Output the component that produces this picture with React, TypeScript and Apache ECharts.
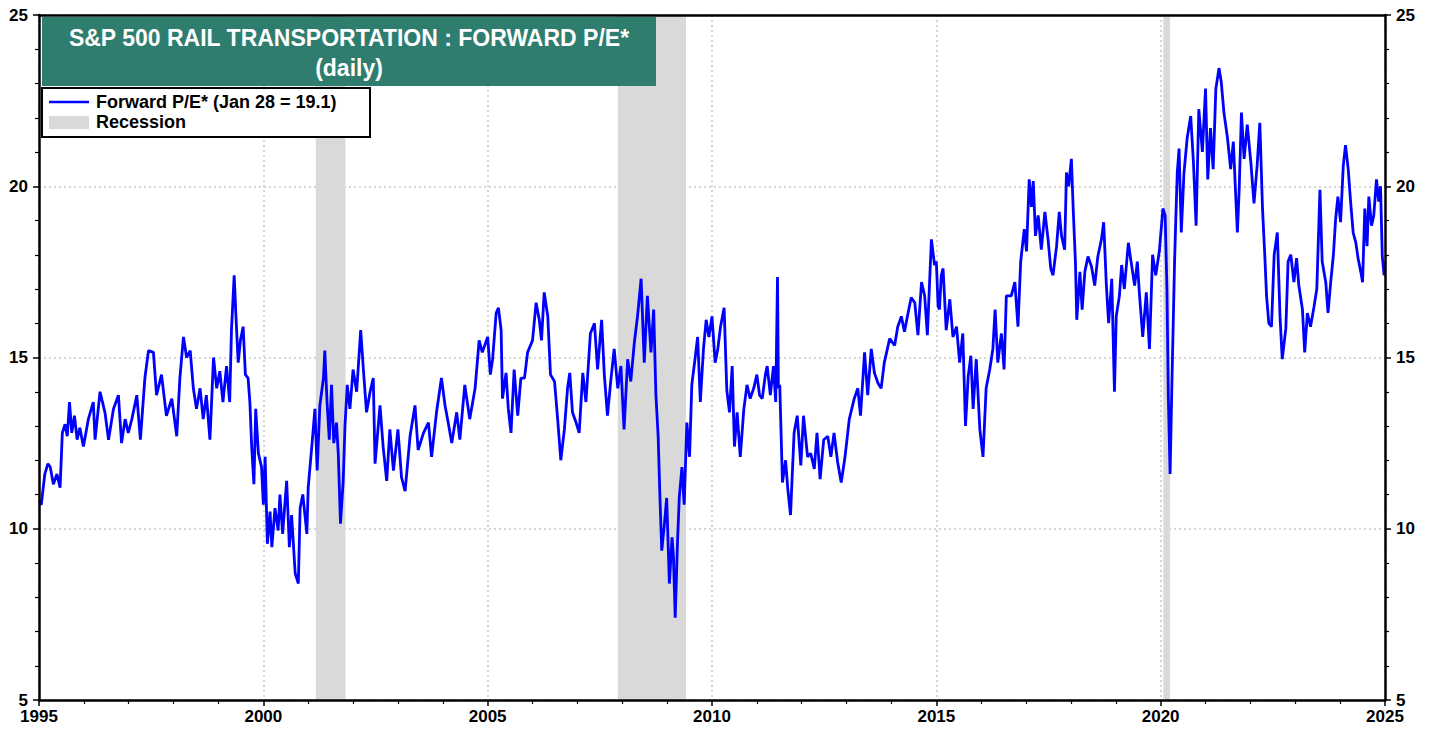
import React, { useEffect, useRef } from "react";
import * as echarts from "echarts";

// Forward P/E readings [decimal year, value]
const pe1995to1999: [number, number][] = [
  [1995.0, 10.8], [1995.05, 10.7], [1995.13, 11.6], [1995.2, 11.9], [1995.25, 11.8], [1995.32, 11.3], [1995.4, 11.6], [1995.47, 11.2],
  [1995.52, 12.8], [1995.58, 13.05], [1995.63, 12.7], [1995.68, 13.7], [1995.73, 12.8], [1995.79, 13.3], [1995.85, 12.6], [1995.91, 12.95],
  [1995.99, 12.4], [1996.1, 13.2], [1996.21, 13.7], [1996.25, 12.6], [1996.36, 14.0], [1996.47, 13.4], [1996.55, 12.6], [1996.66, 13.5],
  [1996.77, 13.9], [1996.84, 12.5], [1996.92, 13.2], [1996.99, 12.8], [1997.07, 13.2], [1997.18, 13.9], [1997.26, 12.6], [1997.36, 14.4],
  [1997.44, 15.2], [1997.55, 15.15], [1997.62, 13.9], [1997.73, 14.5], [1997.84, 13.3], [1997.96, 13.8], [1998.07, 12.7], [1998.14, 14.4],
  [1998.22, 15.6], [1998.29, 15.0], [1998.37, 15.2], [1998.44, 14.1], [1998.51, 13.5], [1998.59, 14.1], [1998.66, 13.2], [1998.73, 13.9],
  [1998.81, 12.6], [1998.89, 15.0], [1998.96, 14.1], [1999.03, 14.6], [1999.1, 13.7], [1999.18, 14.75], [1999.25, 13.7], [1999.29, 15.8],
  [1999.35, 17.4], [1999.39, 16.2], [1999.44, 14.85], [1999.49, 15.5], [1999.55, 15.9], [1999.6, 14.5], [1999.66, 14.4], [1999.7, 13.7],
  [1999.74, 12.4], [1999.79, 11.3], [1999.83, 13.5], [1999.89, 12.2], [1999.96, 11.8],
];
const pe2000to2004: [number, number][] = [
  [2000.0, 10.7], [2000.04, 12.1], [2000.09, 9.56], [2000.15, 10.5], [2000.19, 9.46], [2000.26, 10.6], [2000.33, 9.95], [2000.37, 11.0],
  [2000.43, 9.85], [2000.52, 11.4], [2000.58, 9.46], [2000.63, 10.4], [2000.71, 8.7], [2000.78, 8.4], [2000.82, 10.6], [2000.88, 11.0],
  [2000.97, 9.85], [2001.0, 11.2], [2001.08, 12.4], [2001.15, 13.5], [2001.2, 11.7], [2001.26, 13.6], [2001.34, 14.4], [2001.37, 15.2],
  [2001.42, 13.7], [2001.47, 12.6], [2001.52, 14.2], [2001.57, 12.5], [2001.63, 13.1], [2001.67, 12.2], [2001.72, 10.15], [2001.78, 11.4],
  [2001.82, 13.0], [2001.87, 14.2], [2001.93, 13.5], [2002.0, 14.65], [2002.08, 14.0], [2002.17, 15.8], [2002.23, 14.65], [2002.3, 13.4],
  [2002.38, 14.0], [2002.45, 14.4], [2002.49, 11.9], [2002.6, 13.6], [2002.67, 12.4], [2002.75, 11.4], [2002.82, 12.9], [2002.9, 11.7],
  [2003.0, 12.9], [2003.08, 11.5], [2003.16, 11.1], [2003.27, 12.7], [2003.38, 13.6], [2003.45, 12.3], [2003.57, 12.8], [2003.68, 13.1],
  [2003.75, 12.1], [2003.86, 13.4], [2003.97, 14.4], [2004.05, 13.6], [2004.12, 13.1], [2004.2, 12.5], [2004.31, 13.4], [2004.38, 12.6],
  [2004.49, 14.2], [2004.6, 13.2], [2004.72, 14.1], [2004.81, 15.5],
];
const pe2005to2009: [number, number][] = [
  [2004.88, 15.15], [2005.0, 15.6], [2005.06, 14.5], [2005.11, 14.95], [2005.19, 16.3], [2005.24, 16.45], [2005.3, 15.8], [2005.33, 13.8],
  [2005.41, 14.55], [2005.46, 13.5], [2005.52, 12.8], [2005.59, 14.65], [2005.67, 13.3], [2005.74, 14.4], [2005.82, 14.4], [2005.89, 15.15],
  [2006.0, 15.5], [2006.08, 16.6], [2006.15, 16.1], [2006.2, 15.5], [2006.26, 16.9], [2006.34, 16.2], [2006.4, 14.5], [2006.49, 14.3],
  [2006.56, 13.2], [2006.63, 12.0], [2006.71, 12.9], [2006.78, 14.1], [2006.83, 14.55], [2006.89, 13.4], [2006.97, 13.1], [2007.04, 12.8],
  [2007.12, 14.55], [2007.19, 13.7], [2007.29, 15.7], [2007.38, 16.0], [2007.45, 14.65], [2007.54, 16.1], [2007.6, 14.5], [2007.67, 13.3],
  [2007.75, 14.4], [2007.82, 15.25], [2007.9, 14.1], [2007.97, 14.75], [2008.04, 12.9], [2008.12, 14.95], [2008.19, 14.3], [2008.27, 15.45],
  [2008.34, 16.2], [2008.42, 17.3], [2008.49, 14.85], [2008.56, 16.8], [2008.64, 15.15], [2008.7, 16.4], [2008.75, 13.9], [2008.8, 12.7],
  [2008.84, 10.9], [2008.88, 9.36], [2008.94, 10.15], [2008.99, 10.9], [2009.05, 8.4], [2009.11, 9.75], [2009.14, 9.2], [2009.18, 7.4],
  [2009.23, 9.56], [2009.27, 10.9], [2009.33, 11.8], [2009.38, 10.7], [2009.44, 13.1], [2009.5, 12.1], [2009.55, 14.2], [2009.63, 15.05],
  [2009.68, 15.6], [2009.74, 13.7], [2009.81, 15.25], [2009.87, 16.1], [2009.93, 15.6],
];
const pe2010to2014: [number, number][] = [
  [2010.0, 16.2], [2010.07, 14.85], [2010.13, 15.25], [2010.19, 15.9], [2010.27, 16.45], [2010.33, 14.05], [2010.39, 13.4], [2010.45, 14.75],
  [2010.5, 12.4], [2010.56, 13.4], [2010.63, 12.1], [2010.71, 13.5], [2010.78, 14.2], [2010.85, 13.8], [2010.93, 14.1], [2011.0, 14.5],
  [2011.06, 13.9], [2011.12, 13.8], [2011.19, 14.5], [2011.23, 14.75], [2011.3, 13.9], [2011.37, 14.75], [2011.42, 13.7], [2011.46, 17.35],
  [2011.48, 14.1], [2011.51, 14.2], [2011.57, 11.35], [2011.64, 12.0], [2011.69, 11.15], [2011.75, 10.4], [2011.83, 12.8], [2011.9, 13.3],
  [2011.98, 11.85], [2012.04, 13.3], [2012.13, 12.1], [2012.2, 12.2], [2012.28, 11.75], [2012.34, 12.8], [2012.41, 11.45], [2012.49, 12.6],
  [2012.58, 12.7], [2012.65, 12.1], [2012.72, 12.8], [2012.8, 11.95], [2012.88, 11.35], [2012.96, 12.05], [2013.06, 13.2], [2013.17, 13.8],
  [2013.25, 14.1], [2013.31, 13.3], [2013.4, 15.15], [2013.47, 13.9], [2013.55, 15.25], [2013.62, 14.55], [2013.7, 14.25], [2013.77, 14.1],
  [2013.84, 14.85], [2013.96, 15.55], [2014.07, 15.35], [2014.14, 15.9], [2014.22, 16.2], [2014.29, 15.75], [2014.37, 16.3], [2014.44, 16.75],
  [2014.52, 16.6], [2014.59, 15.65], [2014.67, 17.2], [2014.74, 16.8], [2014.8, 15.65], [2014.89, 18.45], [2014.96, 17.7],
];
const pe2015to2019: [number, number][] = [
  [2015.0, 17.8], [2015.04, 16.5], [2015.07, 16.4], [2015.11, 17.4], [2015.15, 17.6], [2015.22, 15.8], [2015.3, 16.7], [2015.37, 15.6],
  [2015.45, 15.9], [2015.52, 14.85], [2015.59, 15.7], [2015.65, 13.0], [2015.71, 14.45], [2015.77, 15.05], [2015.82, 13.5], [2015.89, 14.95],
  [2015.97, 12.9], [2016.04, 12.1], [2016.11, 14.1], [2016.19, 14.65], [2016.26, 15.25], [2016.31, 16.4], [2016.37, 14.85], [2016.45, 15.7],
  [2016.51, 14.65], [2016.56, 16.8], [2016.67, 16.8], [2016.75, 17.2], [2016.82, 15.9], [2016.88, 17.8], [2016.96, 18.75], [2017.01, 18.1],
  [2017.07, 20.2], [2017.12, 19.4], [2017.16, 20.15], [2017.21, 18.55], [2017.27, 19.15], [2017.34, 18.15], [2017.42, 19.25], [2017.49, 18.45],
  [2017.55, 17.6], [2017.6, 17.4], [2017.68, 18.25], [2017.74, 19.25], [2017.79, 18.55], [2017.86, 18.15], [2017.9, 20.4], [2017.95, 20.0],
  [2018.01, 20.8], [2018.05, 19.35], [2018.1, 17.8], [2018.13, 16.1], [2018.2, 17.5], [2018.25, 16.4], [2018.31, 17.5], [2018.38, 17.95],
  [2018.46, 17.65], [2018.53, 17.1], [2018.6, 17.95], [2018.68, 18.45], [2018.73, 18.95], [2018.79, 17.1], [2018.84, 16.0], [2018.91, 17.3],
  [2018.97, 14.0], [2019.01, 16.2], [2019.08, 16.8], [2019.13, 17.7], [2019.19, 17.0], [2019.28, 18.35], [2019.34, 17.8], [2019.42, 17.1],
  [2019.48, 17.8], [2019.53, 16.8], [2019.6, 15.6], [2019.68, 16.9], [2019.75, 15.25], [2019.82, 18.0], [2019.89, 17.4], [2019.97, 18.1],
];
const pe2020to2025: [number, number][] = [
  [2020.05, 19.35], [2020.1, 19.15], [2020.14, 17.0], [2020.17, 13.9], [2020.21, 11.6], [2020.25, 14.2], [2020.31, 17.8], [2020.34, 19.15],
  [2020.37, 20.4], [2020.41, 21.1], [2020.46, 18.65], [2020.52, 20.4], [2020.59, 21.4], [2020.67, 22.05], [2020.73, 20.7], [2020.79, 18.85],
  [2020.85, 22.25], [2020.93, 21.0], [2021.0, 22.85], [2021.05, 20.2], [2021.11, 21.7], [2021.17, 20.5], [2021.23, 22.85], [2021.3, 23.45],
  [2021.35, 23.05], [2021.41, 22.15], [2021.49, 21.4], [2021.56, 20.5], [2021.62, 21.3], [2021.67, 19.8], [2021.71, 18.65], [2021.75, 19.9],
  [2021.8, 22.15], [2021.86, 20.8], [2021.93, 21.8], [2022.01, 20.7], [2022.08, 19.5], [2022.15, 20.6], [2022.21, 21.85], [2022.27, 19.35],
  [2022.32, 18.0], [2022.36, 16.8], [2022.41, 16.0], [2022.47, 15.9], [2022.53, 18.0], [2022.6, 18.65], [2022.66, 16.2], [2022.71, 14.95],
  [2022.79, 15.85], [2022.84, 17.8], [2022.9, 18.0], [2022.97, 17.2], [2023.03, 17.9], [2023.08, 17.1], [2023.16, 16.4], [2023.21, 15.15],
  [2023.27, 16.3], [2023.34, 15.9], [2023.42, 16.5], [2023.48, 17.0], [2023.55, 19.9], [2023.6, 17.8], [2023.68, 17.2], [2023.73, 16.3],
  [2023.79, 17.2], [2023.85, 18.0], [2023.9, 19.05], [2023.95, 19.7], [2024.01, 18.95], [2024.07, 20.6], [2024.12, 21.2], [2024.18, 20.5],
  [2024.23, 19.6], [2024.29, 18.65], [2024.35, 18.35], [2024.4, 17.9], [2024.46, 17.5], [2024.5, 17.2], [2024.55, 19.35], [2024.6, 18.25],
  [2024.64, 19.7], [2024.7, 18.85], [2024.75, 19.15], [2024.81, 20.2], [2024.86, 19.55], [2024.9, 20.0], [2024.94, 17.95], [2024.98, 17.4],
  [2025.0, 17.8],
];

const recessionStart = [2001.17, 2007.9, 2020.06];
const recessionEnd = [2001.83, 2009.42, 2020.21];

const titleLines = ["S&P 500 RAIL TRANSPORTATION : FORWARD P/E*", "(daily)"];
const legendLabels = ["Forward P/E* (Jan 28 = 19.1)", "Recession"];

const FONT = "'Liberation Sans', Arial, Helvetica, sans-serif";

export default function App() {
  const ref = useRef<HTMLDivElement>(null);

  useEffect(() => {
    if (!ref.current) return;
    const chart = echarts.init(ref.current, undefined, { renderer: "svg" });
    const peData = [
      ...pe1995to1999,
      ...pe2000to2004,
      ...pe2005to2009,
      ...pe2010to2014,
      ...pe2015to2019,
      ...pe2020to2025,
    ];
    const areas = recessionStart.map((s, i) => [{ xAxis: s }, { xAxis: recessionEnd[i] }]);

    const axisLabel = { color: "#000", fontWeight: "bold" as const, fontSize: 17, fontFamily: FONT };
    const gridLine = { show: true, lineStyle: { color: "#c8c8c8", width: 1.5, type: [2, 3] } };
    const hidden = {
      axisLine: { show: false },
      axisTick: { show: false },
      minorTick: { show: false },
      axisLabel: { show: false },
    };
    const xRange = { type: "value" as const, min: 1995, max: 2025, interval: 5 };
    const yRange = { type: "value" as const, min: 5, max: 25, interval: 5 };
    const yVisible = {
      ...yRange,
      axisLine: { show: true, lineStyle: { color: "#000", width: 2.5 } },
      axisTick: { show: true, length: 6, lineStyle: { color: "#000", width: 1.5 } },
      minorTick: { show: true, splitNumber: 5, length: 4, lineStyle: { color: "#000", width: 1.2 } },
      axisLabel: { ...axisLabel, margin: 11 },
      splitLine: { show: false },
      z: 6,
    };

    chart.setOption({
      animation: false,
      backgroundColor: "#fff",
      grid: { left: 39, right: 53, top: 15, bottom: 31 },
      xAxis: [
        {
          ...xRange,
          position: "bottom",
          axisLine: { show: true, onZero: false, lineStyle: { color: "#000", width: 2.5 } },
          axisTick: { show: true, length: 6, lineStyle: { color: "#000", width: 1.5 } },
          minorTick: { show: true, splitNumber: 5, length: 4, lineStyle: { color: "#000", width: 1.2 } },
          axisLabel: { ...axisLabel, margin: 8, formatter: (v: number) => String(v) },
          splitLine: { show: false },
          z: 6,
        },
        {
          ...xRange,
          position: "top",
          axisLine: { show: true, onZero: false, lineStyle: { color: "#000", width: 2.5 } },
          axisTick: { show: false },
          axisLabel: { show: false },
          splitLine: { show: false },
          z: 6,
        },
        {
          ...xRange,
          position: "bottom",
          ...hidden,
          splitLine: gridLine,
          z: 0,
        },
      ],
      yAxis: [
        { ...yVisible, position: "left" },
        { ...yVisible, position: "right" },
        {
          ...yRange,
          position: "left",
          ...hidden,
          splitLine: gridLine,
          z: 0,
        },
      ],
      series: [
        {
          name: "Recession",
          type: "line",
          data: [],
          z: 1,
          silent: true,
          markArea: {
            silent: true,
            itemStyle: { color: "#d9d9d9" },
            data: areas,
          },
        },
        {
          name: "Forward P/E",
          type: "line",
          data: peData,
          z: 5,
          showSymbol: false,
          symbol: "none",
          lineStyle: { color: "#0000ff", width: 2.8 },
        },
      ],
      graphic: [
        {
          type: "rect",
          z: 100,
          shape: { x: 42, y: 17, width: 614, height: 69 },
          style: { fill: "#2e7d6f" },
        },
        {
          type: "text",
          z: 101,
          x: 349,
          y: 38,
          style: {
            text: titleLines[0],
            fill: "#fff",
            font: `bold 23px ${FONT}`,
            textAlign: "center",
            textVerticalAlign: "middle",
          },
        },
        {
          type: "text",
          z: 101,
          x: 349,
          y: 68,
          style: {
            text: titleLines[1],
            fill: "#fff",
            font: `bold 23px ${FONT}`,
            textAlign: "center",
            textVerticalAlign: "middle",
          },
        },
        {
          type: "rect",
          z: 100,
          shape: { x: 42, y: 88, width: 328, height: 49 },
          style: { fill: "#fff", stroke: "#000", lineWidth: 2 },
        },
        {
          type: "line",
          z: 101,
          shape: { x1: 49, y1: 102, x2: 89, y2: 102 },
          style: { stroke: "#0000ff", lineWidth: 2.5 },
        },
        {
          type: "rect",
          z: 101,
          shape: { x: 49, y: 116, width: 40, height: 13 },
          style: { fill: "#d9d9d9" },
        },
        {
          type: "text",
          z: 101,
          x: 96,
          y: 102,
          style: {
            text: legendLabels[0],
            fill: "#000",
            font: `bold 18px ${FONT}`,
            textVerticalAlign: "middle",
          },
        },
        {
          type: "text",
          z: 101,
          x: 96,
          y: 122,
          style: {
            text: legendLabels[1],
            fill: "#000",
            font: `bold 18px ${FONT}`,
            textVerticalAlign: "middle",
          },
        },
      ],
    });

    return () => chart.dispose();
  }, []);

  return (
    <div
      ref={ref}
      style={{ position: "fixed", left: 0, top: 0, width: 1438, height: 731, background: "#fff" }}
    />
  );
}
